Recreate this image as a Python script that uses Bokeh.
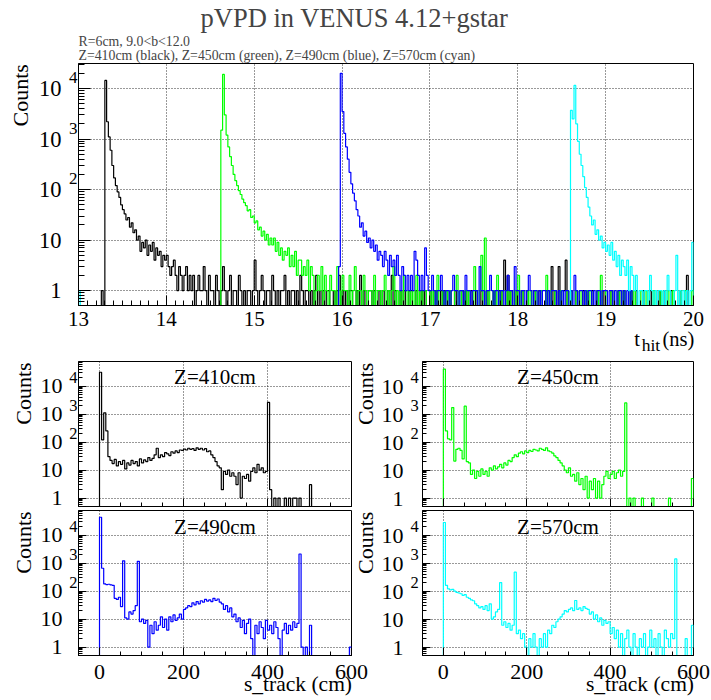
import numpy as np
from bokeh.plotting import figure
from bokeh.layouts import column, row
from bokeh.models import Range1d, FixedTicker, Label, LogAxis, LinearAxis, Title
from bokeh.embed import file_html
from bokeh.resources import INLINE

# ------------------------------------------------------------------ data
# top panel: t_hit histograms, bins of 0.02 ns
t_bin_width = 0.02
black_start = 13.26
black_counts = [
    1, 0, 14500, 2200, 1100, 600, 300, 170, 120, 90,
    70, 50, 40, 33, 25, 28, 18, 22, 14, 16,
    10, 12, 6, 9, 7, 10, 5, 8, 6, 9,
    4, 7, 5, 6, 3, 5, 4, 5, 3, 2,
    3, 4, 2, 1, 3, 2, 1, 2, 3, 1,
    2, 1, 2, 0, 1, 2, 1, 1, 3, 1,
    0, 2, 1, 1, 0, 2, 1, 0, 1, 3,
    1, 0, 1, 2, 0, 1, 1, 0, 2, 1,
    0, 1, 0, 1, 1, 0, 1, 4,
    1, 0, 1, 2, 1, 0, 1, 1, 0, 2, 1, 0, 1, 0, 1, 1, 2, 0, 1, 0,
    1, 1, 0, 1, 0, 2, 1, 0, 1, 1, 0, 1, 0, 1, 2, 0, 1, 0, 1, 0,
    1, 1, 0, 0, 1, 0, 1, 2, 0, 1,
    0, 1, 0, 1, 1, 0, 0, 1, 0, 2, 0, 1, 0, 0, 1, 1, 0, 1, 0, 0,
    1, 0, 1, 0, 0, 1, 0, 2, 0, 1, 0, 0, 1, 0, 1, 0, 0, 1, 1, 0,
    0, 1, 0, 0, 1, 0, 1, 0, 0, 1,
    0, 0, 1, 0, 0, 1, 0, 1, 0, 0, 1, 0, 0, 1, 0, 0, 0, 1, 0, 1,
    0, 0, 1, 0, 0, 1, 0, 0, 1, 0, 0, 1, 0, 0, 0, 1, 0, 0, 1, 0,
    1, 4, 0, 2, 0, 1, 0, 0, 1, 0,
    0, 1, 0, 0, 1, 0, 0, 0, 1, 0, 0, 1, 0, 0, 0, 1, 0, 0, 3, 0,
    1, 0, 3, 0, 0, 1, 4, 0, 0, 1, 0, 0, 1, 0, 0, 0, 1, 0, 1, 0,
    0, 1, 0, 0, 1, 0, 0, 1, 0, 0,
    0, 0, 1, 0, 0, 0, 1, 0, 0, 1, 0, 0, 0, 1, 0, 0, 1, 0, 0, 0,
    1, 0, 0, 0, 1, 0, 0, 0, 0, 1, 0, 0, 1, 0, 0, 0, 1, 0, 0, 0,
    0, 1, 0, 0, 0, 2, 0, 0, 0,
]
green_start = 14.62
green_counts = [
    1500, 19000, 3000, 1200, 700, 450, 300, 200, 150, 120,
    95, 80, 65, 55, 48, 38, 40, 28, 30, 22,
    24, 16, 18, 12, 15, 10, 13, 8, 11, 8,
    11, 6, 9, 5, 7, 4, 6, 5, 7, 3,
    5, 3, 6, 2, 4, 4, 2, 3, 2, 4,
    1, 3, 2, 0, 1, 2, 1, 3, 0, 2, 1, 0, 2, 1, 1, 0, 3, 1, 0, 2,
    1, 1, 0, 2, 0, 1, 3, 0, 1, 1, 0, 2, 1, 0, 1, 1, 0, 2, 0, 1,
    1, 0, 1, 2, 0, 1, 0, 1, 3, 0,
    1, 0, 1, 0, 2, 1, 0, 1, 0, 1, 0, 2, 0, 1, 0, 1, 1, 0, 0, 1,
    0, 1, 0, 2, 0, 0, 1, 0, 1, 0, 1, 0, 0, 1, 2, 0, 1, 0, 0, 1,
    0, 1, 0, 0, 3, 1, 0, 1, 5, 0,
    11, 0, 1, 0, 0, 1, 0, 2, 0, 1, 0, 0, 1, 0, 1, 0, 0, 1, 0, 2,
    0, 1, 0, 0, 1, 0, 1, 0, 0, 1, 0, 0, 1, 0, 0, 2, 0, 1, 0, 0,
    1, 0, 0, 1, 0, 0, 0, 1, 0, 1,
    0, 0, 1, 0, 1, 0, 0, 0, 1, 0, 1, 0, 0, 0, 1, 0, 2, 0, 0, 1,
    0, 0, 1, 0, 0, 0, 1, 0, 0, 1, 0, 0, 0, 1, 0, 1, 0, 0, 0, 1,
    0, 0, 1, 0, 0, 0, 1, 0, 0, 0,
    1, 0, 0, 0, 1, 0, 0, 1, 0, 0, 0, 1, 0, 0, 1, 0, 0, 0, 1,
]
blue_start = 15.96
blue_counts = [
    3, 20000, 3500, 1300, 700, 400, 220, 130, 85, 60,
    40, 30, 18, 22, 12, 15, 9, 11, 7, 10,
    6, 8, 4, 6, 5, 3, 6, 4, 2, 5,
    3, 4, 2, 5, 2, 1, 3, 2, 1, 2,
    1, 2, 1, 6, 4, 2, 1, 2, 1, 7,
    2, 1,
    1, 2, 1, 0, 1, 1, 2, 1, 0, 1, 1, 0, 1, 2, 1, 1, 0, 1, 1, 0,
    2, 1, 1, 0, 1, 1, 1, 0, 3, 1, 1, 0, 1, 1, 2, 1, 0, 1, 1, 0,
    1, 1, 0, 1, 2, 1, 1, 0, 3, 1,
    1, 0, 1, 1, 0, 1, 2, 1, 0, 1, 1, 0, 1, 0, 1, 1, 0, 1, 0, 1,
    1, 1, 0, 1, 0, 1, 0, 1, 1, 0, 1, 0, 2, 1, 0, 1, 1, 0, 1, 0,
    1, 1, 0, 1, 0, 1, 1, 0, 1, 1,
    1, 0, 1, 1, 0, 1, 0, 1, 1, 0, 1, 0, 1, 0, 1,
]
cyan_start = 18.60
cyan_counts = [
    3700, 2500, 11500, 2000, 900, 500, 300, 180, 110, 70,
    45, 30, 20, 25, 13, 16, 10, 12, 7, 9,
    6, 8, 5, 9, 4, 6, 3, 5, 2, 4,
    3, 2, 4, 1, 3, 2, 1, 2, 0, 1,
    1, 0, 1, 1, 0, 2, 1, 0, 1, 0,
    1, 1, 0, 1, 0, 2, 1, 0, 0, 1,
    5, 0, 1, 0, 1, 0, 1, 0, 1, 9,
]
cyan_low_start = 13.00
cyan_low_counts = [1]

# bottom panels: s_track histograms, bins of 5 cm starting at 0 cm
s_bin_width = 5.0
s_start = 0.0
z410_counts = [
    31000, 120, 1100, 250, 30, 22, 17, 24, 14, 20,
    16, 22, 11, 18, 15, 22, 17, 20, 14, 25,
    18, 23, 20, 28, 22, 26, 35, 60, 28, 35,
    30, 42, 38, 33, 45, 40, 48, 42, 52, 50,
    56, 52, 60, 55, 58, 50, 62, 55, 60, 52,
    58, 45, 48, 35, 28, 20, 14, 12, 2, 9,
    7, 10, 6, 8, 6, 3, 8, 1, 6, 5,
    7, 4, 9, 12, 8, 16, 10, 12, 8, 9,
    2600, 2, 0, 1, 0, 1, 0, 0, 1, 0,
    1, 0, 1, 1, 0, 1, 0, 0, 0, 0,
    3, 0, 0, 0, 0, 0, 0, 0, 0, 0,
    0, 0, 0, 0, 0, 0, 0, 0, 0, 0,
]
z450_counts = [
    40000, 250, 130, 120, 1700, 21, 55, 60, 50, 25,
    1900, 20, 18, 7, 10, 5, 9, 6, 11, 7,
    9, 6, 12, 10, 14, 11, 13, 16, 12, 18,
    15, 22, 20, 28, 35, 30, 40, 45, 38, 48,
    42, 50, 46, 55, 52, 48, 60, 55, 50, 62,
    48, 45, 40, 32, 28, 22, 18, 14, 10, 8,
    12, 6, 7, 4, 8, 3, 5, 2, 6, 1,
    4, 2, 5, 1, 4, 1, 3, 6, 9, 5,
    7, 9, 5, 8, 10, 6, 9, 2500, 0, 1,
    0, 1, 0, 0, 0, 1, 0, 0, 0, 0,
    1, 0, 0, 0, 0, 0, 0, 0, 1, 0,
    0, 0, 0, 0, 0, 0, 0, 0, 0, 5,
]
z490_counts = [
    43000, 650, 180, 170, 175, 165, 160, 55, 50, 60,
    28, 1200, 11, 10, 18, 15, 20, 30, 1150, 8,
    10, 7, 9, 1, 6, 3, 8, 4, 6, 12,
    5, 10, 4, 12, 8, 14, 9, 11, 15, 10,
    22, 25, 30, 28, 38, 32, 42, 35, 45, 40,
    50, 44, 48, 42, 55, 46, 52, 40, 35, 22,
    30, 18, 25, 12, 15, 8, 11, 5, 9, 3,
    7, 10, 2, 0, 6, 3, 8, 5, 2, 9,
    4, 6, 3, 8, 5, 2, 0, 4, 7, 3,
    6, 4, 8, 5, 7, 2100, 1, 0, 1, 0,
    6, 0, 0, 0, 0, 0, 0, 0, 0, 0,
    0, 0, 0, 0, 0, 0, 0, 0, 0, 1,
]
z570_counts = [
    28000, 160, 120, 110, 115, 100, 90, 85, 80, 70,
    75, 60, 55, 48, 45, 35, 30, 25, 28, 22,
    30, 20, 35, 10, 12, 18, 22, 200, 6, 8,
    5, 7, 4, 6, 470, 3, 4, 2, 3, 1,
    0, 2, 1, 3, 1, 0, 2, 1, 3, 1,
    4, 3, 6, 5, 8, 10, 12, 15, 20, 18,
    22, 25, 20, 46, 22, 25, 20, 28, 24, 22,
    15, 18, 10, 14, 8, 11, 6, 9, 7, 8,
    3, 5, 2, 4, 1, 3, 0, 2, 4, 1,
    0, 3, 1, 0, 2, 1, 3, 0, 1, 4,
    1, 2, 0, 3, 1, 0, 4, 2, 1, 3,
    2, 1400, 0, 0, 0, 0, 2, 0, 0, 6,
]

# axis ticks and labels
t_ticks = [13, 14, 15, 16, 17, 18, 19, 20]
s_ticks = [0, 200, 400, 600]
log_tick_values = [1, 10, 100, 1000, 10000]
log_tick_base = ["1", "10", "10", "10", "10"]
log_tick_exp = ["", "", "2", "3", "4"]

title_text = "pVPD in VENUS 4.12+gstar"
subtitle_1 = "R=6cm, 9.0<b<12.0"
subtitle_2 = "Z=410cm (black), Z=450cm (green), Z=490cm (blue), Z=570cm (cyan)"
y_title = "Counts"
s_title = "s_track (cm)"

# ------------------------------------------------------------------ helpers
FONT = "Liberation Serif"
FLOOR = 0.3
GRID_DASH = "1 2"
FIG_SPACE = "\u2007"
minor_log = [m * 10.0 ** e for e in range(-1, 5) for m in range(2, 10)]


def step_xy(start, width, counts):
    xs = [start]
    ys = [FLOOR]
    for i, c in enumerate(counts):
        lo = start + i * width
        v = c if c > 0 else FLOOR
        xs += [lo, lo + width]
        ys += [v, v]
    xs.append(start + len(counts) * width)
    ys.append(FLOOR)
    return xs, ys


def base_fig(w, h, xr, yr, bl, br, bt, bb):
    p = figure(width=w, height=h, x_range=Range1d(*xr), y_range=Range1d(*yr),
               y_axis_type="log", output_backend="svg", toolbar_location=None,
               min_border_left=bl, min_border_right=br, min_border_top=bt,
               min_border_bottom=bb)
    p.outline_line_color = "black"
    p.outline_line_alpha = 1.0
    p.outline_line_width = 1
    p.background_fill_color = "white"
    p.border_fill_color = "white"
    return p


def text_axis(p, side, ticks, labels, size, standoff, orientation=None, log=True):
    """An axis without line or tick marks that only carries text labels."""
    cls = LogAxis if log else LinearAxis
    ax = cls(ticker=FixedTicker(ticks=list(ticks), minor_ticks=[]),
             major_label_overrides={t: s for t, s in zip(ticks, labels)},
             major_label_text_font=FONT, major_label_text_font_size=size,
             major_label_text_color="black", major_label_standoff=standoff,
             axis_line_color=None, major_tick_line_color=None,
             minor_tick_line_color=None, major_tick_in=0, major_tick_out=0,
             minor_tick_in=0, minor_tick_out=0)
    if orientation is not None:
        ax.major_label_orientation = orientation
    p.add_layout(ax, side)
    return ax


def style_axes(p, xticks, xminor, x_in, x_min_in, y_in, y_min_in,
               xlabel_px, show_xlabels, x_standoff):
    xt = FixedTicker(ticks=xticks, minor_ticks=xminor)
    yt = FixedTicker(ticks=log_tick_values, minor_ticks=minor_log)
    xa = p.xaxis[0]
    ya = p.yaxis[0]
    xa.ticker = xt
    ya.ticker = yt
    p.xgrid.ticker = xt
    p.ygrid.ticker = yt
    for g in (p.xgrid, p.ygrid):
        g.grid_line_color = "black"
        g.grid_line_alpha = 0.8
        g.grid_line_dash = GRID_DASH
        g.grid_line_width = 1
    for a in (xa, ya):
        a.axis_line_color = "black"
        a.major_tick_line_color = "black"
        a.minor_tick_line_color = "black"
        a.major_tick_out = 0
        a.minor_tick_out = 0
    xa.major_tick_in = x_in
    xa.minor_tick_in = x_min_in
    ya.major_tick_in = y_in
    ya.minor_tick_in = y_min_in
    xa.major_label_text_font = FONT
    xa.major_label_text_font_size = xlabel_px
    xa.major_label_standoff = x_standoff
    xa.major_label_text_color = "black" if show_xlabels else None
    ya.major_label_text_color = None
    ya.major_label_standoff = 0


def log_labels(p, side, ymin, ymax, frame_h, base_px, sup_px, sup_dy,
               base_so, sup_so, counts_so=None, counts_orient=None, counts_px="22px"):
    """ROOT-like '10' + superscript exponent labels and the 'Counts' title."""
    ppd = frame_h / np.log10(ymax / ymin)
    sup_vals = [10 ** (np.log10(v) + sup_dy / ppd)
                for v, e in zip(log_tick_values, log_tick_exp) if e]
    sup_txt = [e for e in log_tick_exp if e]
    if side == "left":
        base_txt = log_tick_base
        order = ["sup", "base", "counts"]
    else:
        base_txt = [(FIG_SPACE + b) if len(b) == 1 else b for b in log_tick_base]
        order = ["counts", "base", "sup"]
    for item in order:
        if item == "sup":
            text_axis(p, side, sup_vals, sup_txt, sup_px, sup_so)
        elif item == "base":
            text_axis(p, side, log_tick_values, base_txt, base_px, base_so)
        elif item == "counts" and counts_so is not None:
            if side == "left":
                yc = 10 ** (np.log10(ymax) - 32.0 / ppd)
            else:
                yc = 10 ** (np.log10(ymax) - 63.5 / ppd)
            text_axis(p, side, [yc], [y_title], counts_px, counts_so,
                      orientation=counts_orient)


# ------------------------------------------------------------------ top panel
T_FW, T_FH = 615, 244
top = base_fig(711, 358, (13, 20), (0.508, 31300), 78, 18, 61, 53)
style_axes(top, t_ticks, [v / 10 for v in range(130, 201)], 10, 5, 12, 6,
           "21px", True, 6)
for start, counts, color in [(black_start, black_counts, "#000000"),
                             (green_start, green_counts, "#00ff00"),
                             (blue_start, blue_counts, "#0000ff"),
                             (cyan_low_start, cyan_low_counts, "#00ffff"),
                             (cyan_start, cyan_counts, "#00ffff")]:
    xs, ys = step_xy(start, t_bin_width, counts)
    top.line(xs, ys, line_color=color, line_width=1.2)

log_labels(top, "left", 0.508, 31300, T_FH, "22.5px", "17px", 11, 4, 1,
           counts_so=2, counts_orient="vertical")


def t_at(px):
    return 13 + (px - 78) / T_FW * 7


text_axis(top, "below", [t_at(650.5)], ["hit"], "17.5px", 6, log=False)
text_axis(top, "below", [t_at(636.5), t_at(678.0)], ["t", "(ns)"], "20.5px", -30,
          log=False)

top.add_layout(Title(text=subtitle_1 + "\n" + subtitle_2, align="left",
                     text_font=FONT, text_font_size="13.8px",
                     text_font_style="normal", text_line_height=0.96,
                     standoff=0), "above")
top.add_layout(Title(text=title_text, align="left", offset=122, text_font=FONT,
                     text_font_size="26.5px", text_font_style="normal",
                     standoff=0), "above")

# ------------------------------------------------------------------ bottom panels
s_minor = list(range(-50, 601, 50))
B_FH = 145


def s_panel(counts, color, title, left, bottom_row):
    if left:
        w, bl, br = 422, 78, 71
    else:
        w, bl, br = 289, 0, 18
    fw = w - bl - br
    if bottom_row:
        h, bt, bb = 189, 0, 44
        title_y = 128.3
    else:
        h, bt, bb = 152, 3, 4
        title_y = 129.3
    p = base_fig(w, h, (-50, 600), (0.5, 75000), bl, br, bt, bb)
    style_axes(p, s_ticks, s_minor, 8, 4, 8, 4, "22px" if bottom_row else "10px",
               bottom_row, 9)
    xs, ys = step_xy(s_start, s_bin_width, counts)
    p.line(xs, ys, line_color=color, line_width=1.2)
    p.add_layout(Label(x=fw / 2, y=title_y, x_units="screen", y_units="screen",
                       text=title, text_font=FONT, text_font_size="21px",
                       text_align="center", text_baseline="alphabetic",
                       text_color="black"))
    if left:
        # own y labels on the left
        log_labels(p, "left", 0.5, 75000, B_FH, "22px", "16.5px", 9, 4, 1,
                   counts_so=2, counts_orient="vertical")
        # y labels of the neighbouring right-hand pad (same y scale)
        log_labels(p, "right", 0.5, 75000, B_FH, "22px", "16.5px", 9, -12, 4,
                   counts_so=14, counts_orient=np.pi / 2)
    if bottom_row:
        xs_t = 600 - 53.5 / fw * 650
        text_axis(p, "below", [xs_t], [s_title], "21.5px", -10, log=False)
    return p


p410 = s_panel(z410_counts, "#000000", "Z=410cm", True, False)
p450 = s_panel(z450_counts, "#00ff00", "Z=450cm", False, False)
p490 = s_panel(z490_counts, "#0000ff", "Z=490cm", True, True)
p570 = s_panel(z570_counts, "#00ffff", "Z=570cm", False, True)

layout = column(top, row(p410, p450), row(p490, p570))

open("out.html", "w").write(file_html(layout, INLINE, title="pVPD in VENUS 4.12+gstar"))
